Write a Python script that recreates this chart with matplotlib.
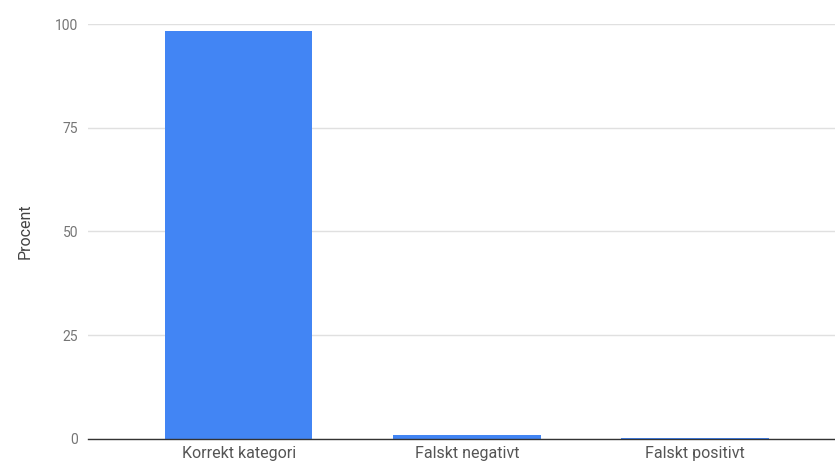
import matplotlib.pyplot as plt

categories = ["Korrekt kategori", "Falskt negativt", "Falskt positivt"]
values = [98.3, 0.9, 0.3]
yticks = [0, 25, 50, 75, 100]

plt.rcParams['font.family'] = ['Roboto', 'DejaVu Sans']

fig = plt.figure(figsize=(8.35, 4.68), dpi=100)
ax = fig.add_axes([0.1054, 0.062, 0.8946, 0.8867])

x = list(range(len(categories)))
ax.bar(x, values, width=0.645, color='#4285F4', zorder=3)

ax.set_xlim(-0.662, 2.614)
ax.set_ylim(0, 100)
ax.set_yticks(yticks)
ax.set_xticks(x)
ax.set_xticklabels(categories, fontsize=11.5, color='#555555')
ax.tick_params(axis='y', labelsize=10, colors='#757575', length=0, pad=7)
ax.tick_params(axis='x', length=0, pad=5)
ax.grid(axis='y', color='#e0e0e0', linewidth=1, zorder=0)

for s in ['top', 'right', 'left']:
    ax.spines[s].set_visible(False)
ax.spines['bottom'].set_color('#333333')
ax.spines['bottom'].set_linewidth(1)
ax.spines['bottom'].set_zorder(4)

ax.set_ylabel('Procent', fontsize=11.5, color='#444444', labelpad=16)

fig.savefig('out.png', dpi=100)
